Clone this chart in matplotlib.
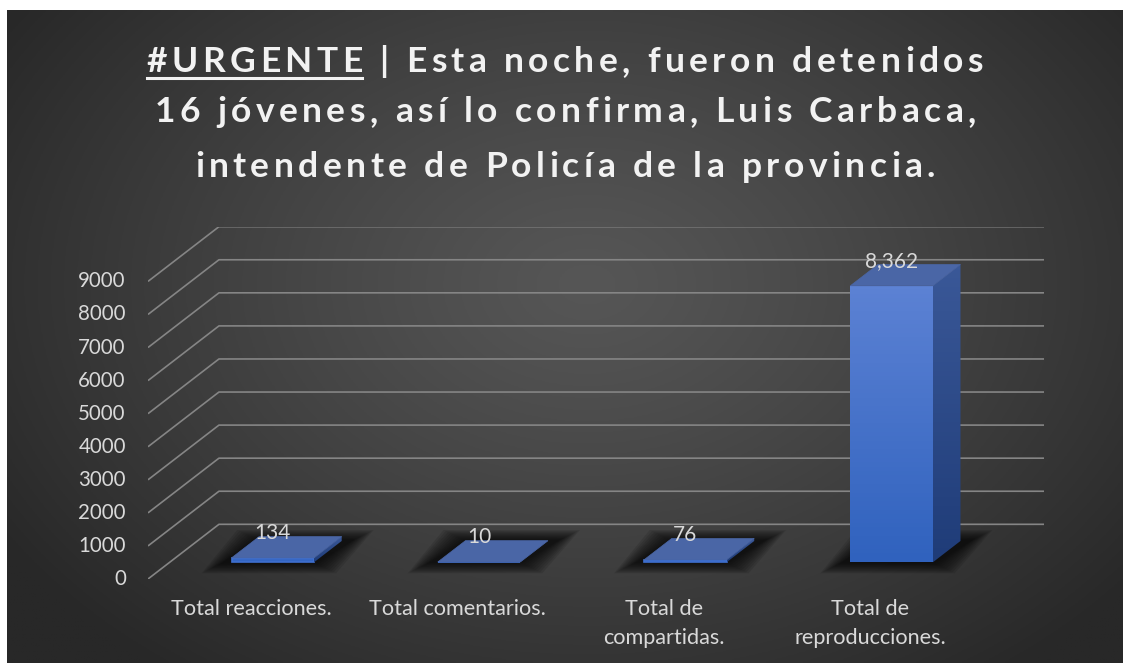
import matplotlib
matplotlib.use("Agg")
import matplotlib.pyplot as plt
import numpy as np
from matplotlib.patches import Polygon
from matplotlib.font_manager import FontProperties, findfont, get_font
from matplotlib.ft2font import LoadFlags

# ---- data ----
categories = ["Total reacciones.", "Total comentarios.", "Total de\ncompartidas.", "Total de\nreproducciones."]
values = [134, 10, 76, 8362]
y_ticks = [0, 1000, 2000, 3000, 4000, 5000, 6000, 7000, 8000, 9000]
title_lines = ["#URGENTE | Esta noche, fueron detenidos",
               "16 jóvenes, así lo confirma, Luis Carbaca,",
               "intendente de Policía de la provincia."]

W, H = 1123, 663
fig = plt.figure(figsize=(W / 100, H / 100), dpi=100, facecolor="white")

# ---- background with radial gradient ----
bg = fig.add_axes([7 / W, 0, 1 - 7 / W, (H - 10) / H])
gx, gy = np.meshgrid(np.linspace(0, 1, 400), np.linspace(0, 1, 240))
r = np.sqrt(((gx - 0.52) / 0.62) ** 2 + ((gy - 0.42) / 0.75) ** 2)
r = np.clip(r, 0, 1)
grey = (86 - (86 - 40) * r ** 1.2) / 255
bg.imshow(np.dstack([grey, grey, grey]), extent=(0, 1, 0, 1), aspect="auto", origin="upper")
bg.set_xlim(0, 1)
bg.set_ylim(0, 1)
bg.axis("off")

# ---- 3D-like plot area ----
ymax = 9000
DX, DY = 0.344, 1654  # full depth of floor (category units, value units)
ax = fig.add_axes([148 / W, (H - 579) / H, (1044 - 148) / W, (579 - 226.7) / H])
ax.set_xlim(-0.5, 3.5 + DX)
ax.set_ylim(0, ymax + DY)
ax.axis("off")
ax.patch.set_alpha(0)

lab_col = "#d9d9d9"
grid_col = "#858585"
for v in y_ticks:
    ax.plot([-0.5, -0.5 + DX, 3.5 + DX], [v, v + DY, v + DY], color=grid_col, lw=1.2,
            solid_capstyle="butt", zorder=1)
    ax.annotate(str(v), xy=(-0.5, v), xytext=(-16, 0), textcoords="offset points",
                ha="right", va="center", fontsize=14.8, color=lab_col, family="Lato")

for i, lab in enumerate(categories):
    ax.annotate(lab, xy=(i, 0), xytext=(0, -14.5), textcoords="offset points",
                ha="center", va="top", fontsize=15.6, color=lab_col, family="Lato",
                linespacing=1.55)

# bars
hw = 0.2
f0, f1 = 0.305, 0.695
bx, by = (f1 - f0) * DX, (f1 - f0) * DY
px_x = (1044 - 148) / (3.5 + DX + 0.5)
px_y = (579 - 226.7) / (ymax + DY)

for i, v in enumerate(values):
    x0 = i - hw + f0 * DX
    y0 = f0 * DY
    x1 = x0 + 2 * hw
    # soft shadow on the floor
    for k in range(10, 0, -1):
        e = k * 2.2
        ex, ey = e / px_x, e / px_y * 0.5
        sh = Polygon([(x0 - ex - 8 / px_x, y0 - ey), (x1 + ex, y0 - ey),
                      (x1 + bx + ex + 10 / px_x, y0 + by + ey), (x0 + bx - ex, y0 + by + ey)],
                     closed=True, fc="black", ec="none", alpha=0.1, zorder=2)
        ax.add_patch(sh)
    # front face with vertical gradient
    front = Polygon([(x0, y0), (x1, y0), (x1, y0 + v), (x0, y0 + v)], closed=True,
                    fc="none", ec="none", zorder=3)
    ax.add_patch(front)
    grad = np.linspace(0, 1, 64)[:, None]
    c_top = np.array([0x5c, 0x82, 0xd4]) / 255
    c_bot = np.array([0x30, 0x62, 0xbe]) / 255
    if v < 500:
        c_top = np.array([0x3f, 0x70, 0xd0]) / 255
    img = c_top + (c_bot - c_top) * grad[..., None]
    im = ax.imshow(img.repeat(2, axis=1), extent=(x0, x1, y0, y0 + max(v, 1)), aspect="auto",
                   origin="upper", zorder=3)
    im.set_clip_path(front)
    if v < 500:
        ax.add_patch(Polygon([(x0, y0), (x1, y0), (x1, y0 + v), (x0, y0 + v)], closed=True,
                             fc="none", ec="#3f70d0", lw=1.2, zorder=3))
    # side face
    side = Polygon([(x1, y0), (x1 + bx, y0 + by), (x1 + bx, y0 + by + v), (x1, y0 + v)],
                   closed=True, fc="none", ec="none", zorder=3)
    ax.add_patch(side)
    s_top = np.array([0x3a, 0x58, 0x98]) / 255
    s_bot = np.array([0x1f, 0x3c, 0x78]) / 255
    simg = s_top + (s_bot - s_top) * grad[..., None]
    sim = ax.imshow(simg.repeat(2, axis=1), extent=(x1, x1 + bx, y0, y0 + by + v), aspect="auto",
                    origin="upper", zorder=3)
    sim.set_clip_path(side)
    # top face
    ax.add_patch(Polygon([(x0, y0 + v), (x1, y0 + v), (x1 + bx, y0 + v + by), (x0 + bx, y0 + v + by)],
                         closed=True, fc="#4a66a6", ec="#4a66a6", lw=0.5, zorder=4))
    # data label
    ax.annotate(f"{v:,}", xy=((x0 + x1) / 2, y0 + v), xytext=(0, 18), textcoords="offset points",
                ha="center", va="center", fontsize=15, color=lab_col, family="Lato", zorder=5)

# ---- title (Excel-like letter spacing, drawn char by char) ----
title_y = [72, 122, 177]
t_size = 25.5
t_track = 4.4  # extra px between characters
fp = FontProperties(family="Lato", weight="bold", size=t_size)
ft = get_font(findfont(fp))
ft.set_size(t_size, 100)


def advance(ch):
    g = ft.load_char(ord(ch), flags=LoadFlags.NO_HINTING)
    return g.linearHoriAdvance / 65536


for n, (line, yb) in enumerate(zip(title_lines, title_y)):
    adv = [advance(c) for c in line]
    total = sum(adv) + t_track * (len(line) - 1)
    x = 565 - total / 2
    x_start = x
    for c, a in zip(line, adv):
        fig.text(x / W, 1 - yb / H, c, ha="left", va="baseline", color="#f2f2f2",
                 fontproperties=fp)
        x += a + t_track
    if n == 0:
        k = len("#URGENTE")
        x_end = x_start + sum(adv[:k]) + t_track * (k - 1)
        fig.add_artist(plt.Line2D([x_start / W, x_end / W], [1 - 77.5 / H, 1 - 77.5 / H],
                                  transform=fig.transFigure, color="#f2f2f2", lw=2.2))

fig.savefig("out.png", dpi=100, facecolor="white")
